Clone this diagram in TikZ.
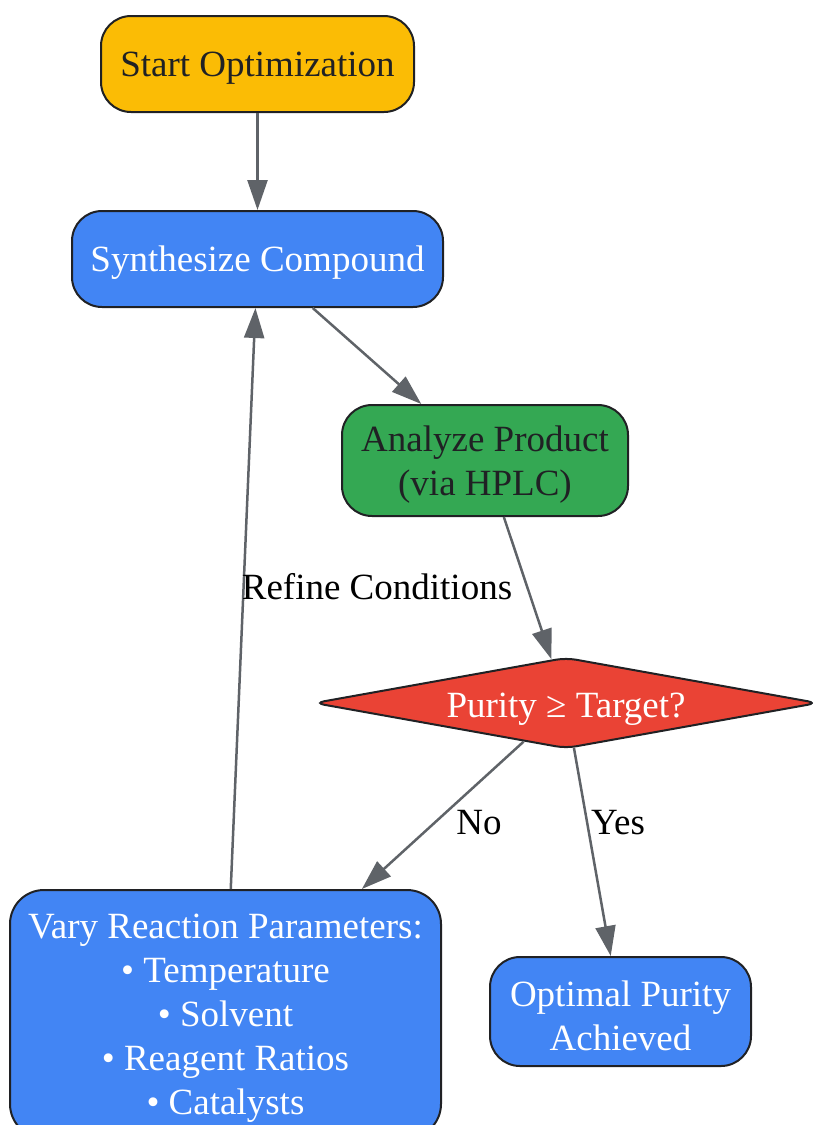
\documentclass[tikz,border=0pt]{standalone}
\usepackage{fontspec}
\setmainfont{Liberation Serif}
\usetikzlibrary{shapes.geometric,arrows.meta}
\definecolor{cyellow}{HTML}{FBBC05}
\definecolor{cblue}{HTML}{4285F4}
\definecolor{cgreen}{HTML}{34A853}
\definecolor{cred}{HTML}{EA4335}
\definecolor{cedge}{HTML}{5F6368}
\definecolor{cborder}{HTML}{202124}
\begin{document}
\begin{tikzpicture}[x=1pt,y=-1pt,
  every node/.style={font=\fontsize{37}{44}\selectfont},
  box/.style={draw=cborder,line width=2pt,rounded corners=30pt,inner sep=0pt},
  dia/.style={diamond,draw=cborder,line width=2pt,rounded corners=10pt,inner sep=0pt,aspect=5.6},
  txt/.style={align=center,inner sep=0pt,yshift=-4pt},
  conn/.style={draw=cedge,line width=2.5pt,-{Triangle[length=30pt,width=20pt]}},
  lbl/.style={text=black,inner sep=0pt}
]
\useasboundingbox (0,0) rectangle (812,1125);
\node[box,fill=cyellow,minimum width=313pt,minimum height=96pt,
  label={[txt,text=cborder]center:Start Optimization}] (start) at (257.5,64) {};
\node[box,fill=cblue,minimum width=371pt,minimum height=96pt,
  label={[txt,text=white]center:Synthesize Compound}] (synth) at (257.5,259) {};
\node[box,fill=cgreen,minimum width=286pt,minimum height=111pt,
  label={[txt,text=cborder]center:Analyze Product\\(via HPLC)}] (analyze) at (485,460.5) {};
\node[dia,fill=cred,minimum width=504pt,minimum height=91pt,
  label={[txt,text=white,yshift=-2pt]center:Purity ≥ Target?}] (purity) at (566,703) {};
\node[box,fill=cblue,minimum width=431pt,minimum height=248pt,rounded corners=34pt,
  label={[txt,text=white]center:Vary Reaction Parameters:\\• Temperature\\• Solvent\\• Reagent Ratios\\• Catalysts}] (vary) at (225.5,1014) {};
\node[box,fill=cblue,minimum width=261pt,minimum height=109pt,
  label={[txt,text=white]center:Optimal Purity\\Achieved}] (optimal) at (620.5,1011.5) {};

\draw[conn] (start) -- (synth);
\draw[conn] (synth) -- (analyze);
\draw[conn] (analyze) -- (purity);
\draw[conn] (purity) -- (vary);
\draw[conn] (purity) -- (optimal);
\draw[conn] (vary) -- (synth);

\node[lbl] (lno) at (479,823) {No};
\node[lbl] (lyes) at (618,823) {Yes};
\node[lbl] (lrefine) at (377,587) {Refine Conditions};
\end{tikzpicture}
\end{document}
